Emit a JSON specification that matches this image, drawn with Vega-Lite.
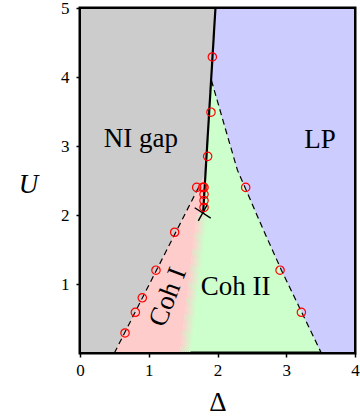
{
  "$schema": "https://vega.github.io/schema/vega-lite/v6.json",
  "width": 275,
  "height": 345,
  "autosize": {"type": "none"},
  "padding": {"left": 80, "top": 8, "right": 5, "bottom": 64},
  "config": {
    "view": {"fill": "#ccffcc", "stroke": "black", "strokeWidth": 3},
    "font": "Liberation Serif",
    "axis": {"grid": false, "labelFont": "Liberation Serif", "titleFont": "Liberation Serif", "labelColor": "black", "titleColor": "black", "titleFontWeight": "normal", "domain": false, "tickColor": "black", "labelFlush": false, "labelOverlap": false}
  },
  "datasets": {
    "gray": [
      {"U": 0, "lo": 0, "hi": 0.5},
      {"U": 2.5, "lo": 0, "hi": 1.77},
      {"U": 2.6, "lo": 0, "hi": 1.826},
      {"U": 3.95, "lo": 0, "hi": 1.907},
      {"U": 5, "lo": 0, "hi": 1.97}
    ],
    "blue": [
      {"U": 0, "lo": 3.51, "hi": 4},
      {"U": 0.6, "lo": 3.22, "hi": 4},
      {"U": 1.2, "lo": 2.93, "hi": 4},
      {"U": 1.8, "lo": 2.66, "hi": 4},
      {"U": 2.4, "lo": 2.4, "hi": 4},
      {"U": 2.65, "lo": 2.29, "hi": 4},
      {"U": 3.3, "lo": 2.1, "hi": 4},
      {"U": 3.95, "lo": 1.912, "hi": 4},
      {"U": 5, "lo": 1.97, "hi": 4}
    ],
    "pink": [
      {"U": 0, "lo": 0.5, "hi": 1.455},
      {"U": 2.0, "lo": 1.515, "hi": 1.701},
      {"U": 2.05, "lo": 1.54, "hi": 1.793},
      {"U": 2.5, "lo": 1.77, "hi": 1.82},
      {"U": 2.6, "lo": 1.826, "hi": 1.826}
    ],
    "blend": [
      {"s": 1, "U": 0, "lo": 1.455, "hi": 1.485}, {"s": 1, "U": 2.0, "lo": 1.701, "hi": 1.731},
      {"s": 2, "U": 0, "lo": 1.485, "hi": 1.515}, {"s": 2, "U": 2.0, "lo": 1.731, "hi": 1.761},
      {"s": 3, "U": 0, "lo": 1.515, "hi": 1.545}, {"s": 3, "U": 2.0, "lo": 1.761, "hi": 1.791},
      {"s": 4, "U": 0, "lo": 1.545, "hi": 1.575}, {"s": 4, "U": 2.0, "lo": 1.791, "hi": 1.821},
      {"s": 5, "U": 0, "lo": 1.575, "hi": 1.605}, {"s": 5, "U": 2.0, "lo": 1.821, "hi": 1.851}
    ],
    "frame": [
      {"D": 0, "D2": 4, "U": 0, "U2": 0},
      {"D": 0, "D2": 4, "U": 5, "U2": 5},
      {"D": 0, "D2": 0, "U": 0, "U2": 5},
      {"D": 4, "D2": 4, "U": 0, "U2": 5}
    ],
    "dashL": [
      {"U": 0, "D": 0.5},
      {"U": 2.44, "D": 1.745}
    ],
    "dashR": [
      {"U": 0, "D": 3.51},
      {"U": 0.6, "D": 3.22},
      {"U": 1.2, "D": 2.93},
      {"U": 1.8, "D": 2.66},
      {"U": 2.4, "D": 2.4},
      {"U": 2.65, "D": 2.29},
      {"U": 3.3, "D": 2.1},
      {"U": 3.95, "D": 1.912}
    ],
    "solid": [
      {"U": 2.02, "D": 1.79},
      {"U": 5, "D": 1.97}
    ],
    "cross": [
      {"U": 2.03, "D": 1.785}
    ],
    "circles": [
      {"D": 0.655, "U": 0.29},
      {"D": 0.805, "U": 0.59},
      {"D": 0.906, "U": 0.8},
      {"D": 1.105, "U": 1.2},
      {"D": 1.377, "U": 1.75},
      {"D": 1.697, "U": 2.4},
      {"D": 1.785, "U": 2.4},
      {"D": 1.804, "U": 2.4},
      {"D": 1.804, "U": 2.3},
      {"D": 1.804, "U": 2.21},
      {"D": 1.804, "U": 2.11},
      {"D": 1.857, "U": 2.85},
      {"D": 1.905, "U": 3.49},
      {"D": 1.925, "U": 4.29},
      {"D": 2.41, "U": 2.4},
      {"D": 2.91, "U": 1.2},
      {"D": 3.22, "U": 0.59}
    ],
    "labels": [
      {"t": "NI gap", "D": 0.885, "U": 2.98},
      {"t": "LP", "D": 3.49, "U": 2.97},
      {"t": "Coh II", "D": 2.265, "U": 0.84}
    ],
    "rot": [
      {"t": "Coh I", "D": 1.28, "U": 0.81}
    ]
  },
  "layer": [
    {
      "data": {"name": "gray"},
      "mark": {"type": "area", "orient": "horizontal", "color": "#cccccc"},
      "encoding": {
        "y": {"field": "U", "type": "quantitative", "scale": {"domain": [0, 5], "nice": false},
          "axis": {"values": [1, 2, 3, 4, 5], "format": "d", "title": "U", "titleAngle": 0, "titleFontStyle": "italic", "titleFontSize": 27, "titleX": -52, "titleY": 184.5, "titleAlign": "center", "titleBaseline": "alphabetic", "labelFontSize": 17, "tickSize": 4, "tickWidth": 1.5, "labelPadding": 7}},
        "x": {"field": "lo", "type": "quantitative", "scale": {"domain": [0, 4], "nice": false},
          "axis": {"values": [0, 0.5, 1, 1.5, 2, 2.5, 3, 3.5, 4], "labelExpr": "datum.value % 1 === 0 ? format(datum.value, 'd') : ''", "title": "Δ", "titleFontSize": 27, "titleY": 57, "titleBaseline": "alphabetic", "labelFontSize": 17, "tickSize": 4, "tickWidth": 1.5, "labelPadding": 5}},
        "x2": {"field": "hi"}
      }
    },
    {
      "data": {"name": "blue"},
      "mark": {"type": "area", "orient": "horizontal", "color": "#ccccff"},
      "encoding": {
        "y": {"field": "U", "type": "quantitative"},
        "x": {"field": "lo", "type": "quantitative"},
        "x2": {"field": "hi"}
      }
    },
    {
      "data": {"name": "pink"},
      "mark": {"type": "area", "orient": "horizontal", "color": "#ffcccc"},
      "encoding": {
        "y": {"field": "U", "type": "quantitative"},
        "x": {"field": "lo", "type": "quantitative"},
        "x2": {"field": "hi"}
      }
    },
    {
      "data": {"name": "blend"},
      "transform": [{"filter": "datum.s == 1"}],
      "mark": {"type": "area", "orient": "horizontal", "color": "#f7d5cc"},
      "encoding": {
        "y": {"field": "U", "type": "quantitative"},
        "x": {"field": "lo", "type": "quantitative"},
        "x2": {"field": "hi"}
      }
    },
    {
      "data": {"name": "blend"},
      "transform": [{"filter": "datum.s == 2"}],
      "mark": {"type": "area", "orient": "horizontal", "color": "#eeddcc"},
      "encoding": {
        "y": {"field": "U", "type": "quantitative"},
        "x": {"field": "lo", "type": "quantitative"},
        "x2": {"field": "hi"}
      }
    },
    {
      "data": {"name": "blend"},
      "transform": [{"filter": "datum.s == 3"}],
      "mark": {"type": "area", "orient": "horizontal", "color": "#e6e6cc"},
      "encoding": {
        "y": {"field": "U", "type": "quantitative"},
        "x": {"field": "lo", "type": "quantitative"},
        "x2": {"field": "hi"}
      }
    },
    {
      "data": {"name": "blend"},
      "transform": [{"filter": "datum.s == 4"}],
      "mark": {"type": "area", "orient": "horizontal", "color": "#ddeecc"},
      "encoding": {
        "y": {"field": "U", "type": "quantitative"},
        "x": {"field": "lo", "type": "quantitative"},
        "x2": {"field": "hi"}
      }
    },
    {
      "data": {"name": "blend"},
      "transform": [{"filter": "datum.s == 5"}],
      "mark": {"type": "area", "orient": "horizontal", "color": "#d5f7cc"},
      "encoding": {
        "y": {"field": "U", "type": "quantitative"},
        "x": {"field": "lo", "type": "quantitative"},
        "x2": {"field": "hi"}
      }
    },
    {
      "data": {"name": "dashL"},
      "mark": {"type": "line", "color": "black", "strokeWidth": 1.2, "strokeDash": [6, 4]},
      "encoding": {
        "y": {"field": "U", "type": "quantitative"},
        "x": {"field": "D", "type": "quantitative"}
      }
    },
    {
      "data": {"name": "dashR"},
      "mark": {"type": "line", "color": "black", "strokeWidth": 1.2, "strokeDash": [6, 4]},
      "encoding": {
        "y": {"field": "U", "type": "quantitative"},
        "x": {"field": "D", "type": "quantitative"}
      }
    },
    {
      "data": {"name": "solid"},
      "mark": {"type": "line", "color": "black", "strokeWidth": 2.2},
      "encoding": {
        "y": {"field": "U", "type": "quantitative"},
        "x": {"field": "D", "type": "quantitative"}
      }
    },
    {
      "data": {"name": "cross"},
      "mark": {"type": "point", "shape": "M-1,-0.65L1,0.65M-0.55,1L0.55,-1", "size": 256, "stroke": "black", "strokeWidth": 1.4, "opacity": 1},
      "encoding": {
        "y": {"field": "U", "type": "quantitative"},
        "x": {"field": "D", "type": "quantitative"}
      }
    },
    {
      "data": {"name": "circles"},
      "mark": {"type": "point", "shape": "circle", "filled": false, "size": 70, "stroke": "#ff0000", "strokeWidth": 1.2, "opacity": 1},
      "encoding": {
        "y": {"field": "U", "type": "quantitative"},
        "x": {"field": "D", "type": "quantitative"}
      }
    },
    {
      "data": {"name": "labels"},
      "mark": {"type": "text", "fontSize": 27, "font": "Liberation Serif", "color": "black", "align": "center", "baseline": "alphabetic"},
      "encoding": {
        "y": {"field": "U", "type": "quantitative"},
        "x": {"field": "D", "type": "quantitative"},
        "text": {"field": "t"}
      }
    },
    {
      "data": {"name": "rot"},
      "mark": {"type": "text", "fontSize": 27, "font": "Liberation Serif", "color": "black", "align": "center", "baseline": "middle", "angle": 291},
      "encoding": {
        "y": {"field": "U", "type": "quantitative"},
        "x": {"field": "D", "type": "quantitative"},
        "text": {"field": "t"}
      }
    },
    {
      "data": {"name": "frame"},
      "mark": {"type": "rule", "color": "black", "strokeWidth": 2},
      "encoding": {
        "y": {"field": "U", "type": "quantitative"},
        "y2": {"field": "U2"},
        "x": {"field": "D", "type": "quantitative"},
        "x2": {"field": "D2"}
      }
    }
  ]
}
